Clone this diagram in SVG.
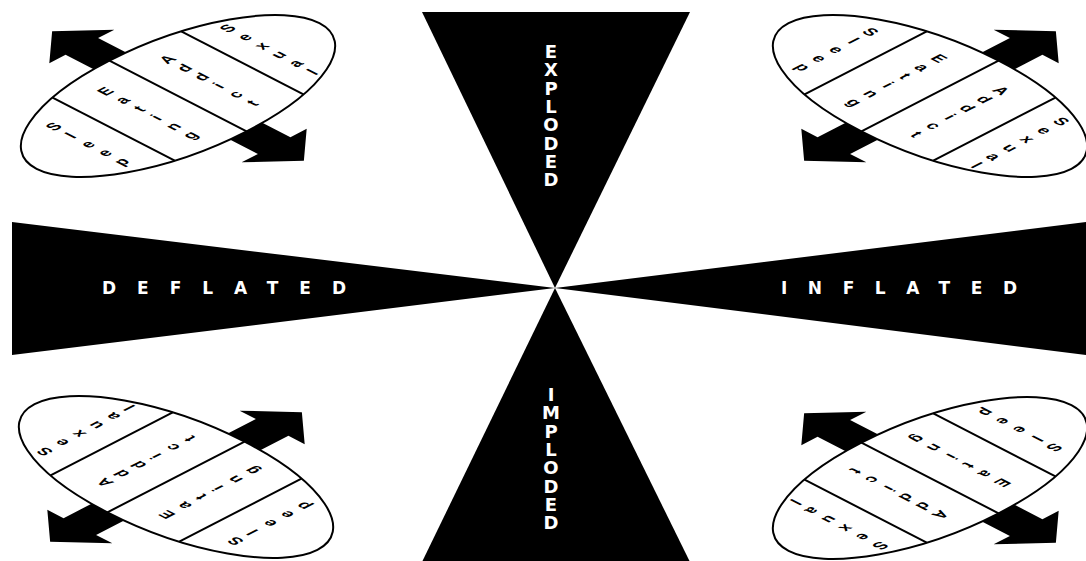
<svg xmlns="http://www.w3.org/2000/svg" xmlns:xlink="http://www.w3.org/1999/xlink" width="1086" height="561" viewBox="0 0 1086 561">
<style>
.tri{fill:#000}
.big{font-family:"DejaVu Sans","Liberation Sans",sans-serif;font-weight:bold;fill:#fff}
.v{font-size:18px;writing-mode:vertical-rl;text-orientation:upright;letter-spacing:-2.7px}
.h{font-size:17px}
.ell{fill:#fff;stroke:#000;stroke-width:2;vector-effect:non-scaling-stroke}
.div{stroke:#000;stroke-width:2;vector-effect:non-scaling-stroke}
.arr{fill:#000}
.lbl{font-family:"Liberation Sans",sans-serif;font-size:20px;font-weight:bold;text-anchor:middle;fill:#000}
</style>
<defs>
<g id="disc">
<polygon class="arr" points="0,-178 46,-136 23,-136 23,136 46,136 0,178 -46,136 -23,136 -23,-136 -46,-136"/>
<ellipse class="ell" cx="0" cy="0" rx="200" ry="97"/>
<line class="div" x1="91" y1="-86.4" x2="91" y2="86.4"/>
<line class="div" x1="0" y1="-97" x2="0" y2="97"/>
<line class="div" x1="-91" y1="-86.4" x2="-91" y2="86.4"/>
<text class="lbl"><tspan x="128" y="-51">S</tspan><tspan x="128" y="-27">e</tspan><tspan x="128" y="-3">x</tspan><tspan x="128" y="21">u</tspan><tspan x="128" y="45">a</tspan><tspan x="128" y="69">l</tspan></text>
<text class="lbl"><tspan x="43" y="-51">A</tspan><tspan x="43" y="-27">d</tspan><tspan x="43" y="-3">d</tspan><tspan x="43" y="21">i</tspan><tspan x="43" y="45">c</tspan><tspan x="43" y="69">t</tspan></text>
<text class="lbl"><tspan x="-45" y="-51">E</tspan><tspan x="-45" y="-27">a</tspan><tspan x="-45" y="-3">t</tspan><tspan x="-45" y="21">i</tspan><tspan x="-45" y="45">n</tspan><tspan x="-45" y="69">g</tspan></text>
<text class="lbl"><tspan x="-130" y="-39">S</tspan><tspan x="-130" y="-15">l</tspan><tspan x="-130" y="9">e</tspan><tspan x="-130" y="33">e</tspan><tspan x="-130" y="57">p</tspan></text>
</g>
</defs>
<g id="exploded">
<polygon class="tri" points="422,12 690,12 555,288"/>
<text class="big v" x="551" y="41">EXPLODED</text>
</g>
<g id="imploded">
<polygon class="tri" points="422,562 690,562 555,288"/>
<text class="big v" x="551" y="384">IMPLODED</text>
</g>
<g id="deflated">
<polygon class="tri" points="12,222 12,355 555,288"/>
<text class="big h" x="102" y="294" textLength="244" lengthAdjust="spacing">DEFLATED</text>
</g>
<g id="inflated">
<polygon class="tri" points="1086,222 1086,355 555,288"/>
<text class="big h" x="781" y="294" textLength="236" lengthAdjust="spacing">INFLATED</text>
</g>
<g id="disc-top-left" transform="translate(178,96) scale(1,0.515) rotate(-45)"><use xlink:href="#disc"/></g>
<g id="disc-top-right" transform="translate(930,96) scale(1,0.515) rotate(45)"><use xlink:href="#disc"/></g>
<g id="disc-bottom-left" transform="translate(176,477) scale(1,0.515) rotate(-135)"><use xlink:href="#disc"/></g>
<g id="disc-bottom-right" transform="translate(930,478) scale(1,0.515) rotate(135)"><use xlink:href="#disc"/></g>
<g id="connectors"></g>
</svg>
